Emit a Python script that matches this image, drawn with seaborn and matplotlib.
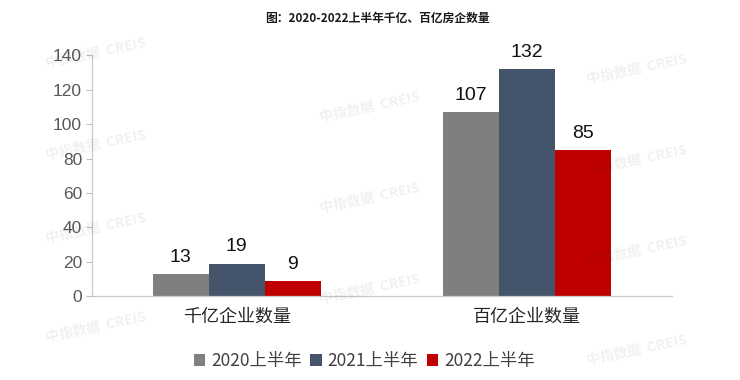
import pandas as pd
import seaborn as sns
import matplotlib.pyplot as plt

# data
categories = ['千亿企业数量', '百亿企业数量']
periods = ['2020上半年', '2021上半年', '2022上半年']
values_2020 = [13, 107]
values_2021 = [19, 132]
values_2022 = [9, 85]
colors = ['#7f7f7f', '#44546a', '#c00000']

rows = []
for period, vals in zip(periods, [values_2020, values_2021, values_2022]):
    for cat, v in zip(categories, vals):
        rows.append({'类别': cat, '时期': period, '数量': v})
df = pd.DataFrame(rows)

sns.set_style('white')
plt.rcParams['font.family'] = ['Noto Sans CJK SC', 'DejaVu Sans']

fig = plt.figure(figsize=(7.4, 3.8), dpi=100)
ax = fig.add_axes([0.124, 0.22, 0.784, 0.635])

sns.barplot(data=df, x='类别', y='数量', hue='时期', palette=colors,
            width=0.58, saturation=1, linewidth=0, ax=ax, legend=True)

for container in ax.containers:
    ax.bar_label(container, padding=6, fontsize=14, color='#111111',
                 family=['Liberation Sans', 'DejaVu Sans'])

ax.set_xlim(-0.5, 1.5)
ax.set_ylim(0, 140)
ax.set_yticks(range(0, 141, 20))
ax.set_xlabel('')
ax.set_ylabel('')
ax.tick_params(axis='y', labelsize=12.5, colors='#bfbfbf', length=4, width=0.8,
               direction='out', left=True, pad=3)
ax.tick_params(axis='x', labelsize=13, colors='#262626', length=0, pad=8)
for lab in ax.get_yticklabels():
    lab.set_family(['Liberation Sans', 'DejaVu Sans'])
    lab.set_color('#595959')
for side in ['top', 'right']:
    ax.spines[side].set_visible(False)
for side in ['left', 'bottom']:
    ax.spines[side].set_color('#c8c8c8')
    ax.spines[side].set_linewidth(0.9)

ax.legend(loc='upper center', bbox_to_anchor=(0.47, -0.165), ncol=3, frameon=False,
          fontsize=12.5, handlelength=0.65, handleheight=0.65, handletextpad=0.35,
          columnspacing=0.5, labelcolor='#404040')

fig.text(0.51, 0.952, '图：2020-2022上半年千亿、百亿房企数量', ha='center', va='center',
         fontsize=8.5, fontweight='bold', color='#1a1a1a')

# faint watermarks
marks = [(0.13, 0.86), (0.13, 0.62), (0.13, 0.40), (0.13, 0.14), (0.50, 0.72),
         (0.50, 0.48), (0.50, 0.24), (0.86, 0.82), (0.86, 0.58), (0.86, 0.34), (0.86, 0.08)]
for mx, my in marks:
    fig.text(mx, my, '中指数据  CREIS', rotation=12, fontsize=10, fontweight='bold',
             color='#000000', alpha=0.06, ha='center', va='center')

fig.savefig('out.png', dpi=100)
